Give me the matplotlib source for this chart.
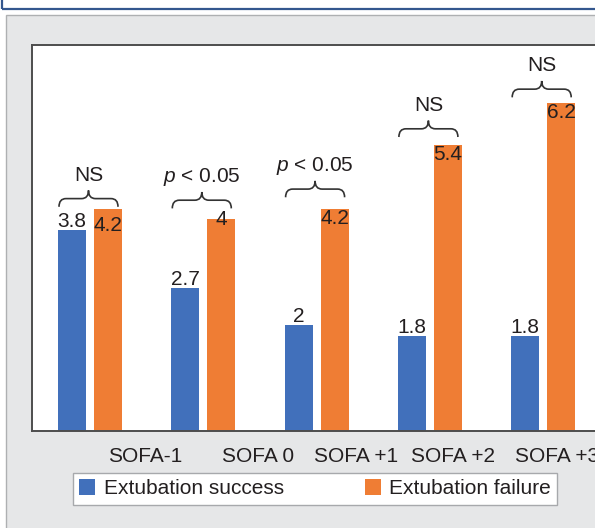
import matplotlib
matplotlib.use('Agg')
import matplotlib.pyplot as plt
from matplotlib.patches import Rectangle, PathPatch
from matplotlib.path import Path
import numpy as np

# ---------------- data ----------------
categories = ['SOFA-1', 'SOFA 0', 'SOFA +1', 'SOFA +2', 'SOFA +3']
success = [3.8, 2.7, 2.0, 1.8, 1.8]
failure = [4.2, 4.0, 4.2, 5.4, 6.2]
success_labels = ['3.8', '2.7', '2', '1.8', '1.8']
failure_labels = ['4.2', '4', '4.2', '5.4', '6.2']
significance = ['NS', r'$\mathit{p}$ < 0.05', r'$\mathit{p}$ < 0.05', 'NS', 'NS']
series_names = ['Extubation success', 'Extubation failure']

# ---------------- style / layout ----------------
plt.rcParams['font.family'] = ['Liberation Sans', 'DejaVu Sans']
plt.rcParams['mathtext.fontset'] = 'custom'
plt.rcParams['mathtext.rm'] = 'Liberation Sans'
plt.rcParams['mathtext.it'] = 'Liberation Sans:italic'

BLUE = '#4170bb'
ORANGE = '#ef7d34'
TXT = '#231f20'
FS = 15

W, H, DPI = 595, 528, 100
fig = plt.figure(figsize=(W / DPI, H / DPI), dpi=DPI)
fig.patch.set_facecolor('white')


def fx(px):
    return px / W


def fy(py):
    return 1 - py / H


# outer blue frame and grey panel
fig.patches.append(Rectangle((fx(2), fy(9)), 2, 1, transform=fig.transFigure,
                             fill=False, edgecolor='#34578e', lw=1.6, zorder=-10))
fig.patches.append(Rectangle((fx(6), -0.1), 2, fy(15) + 0.1, transform=fig.transFigure,
                             facecolor='#e6e7e8', edgecolor='#aeb0b2', lw=1.0, zorder=-9))

px_per_unit = 113.3
x0_px = 90
ax_left, ax_top, ax_bottom, ax_right = 32, 45, 431, 720
ax = fig.add_axes([fx(ax_left), fy(ax_bottom), (ax_right - ax_left) / W, (ax_bottom - ax_top) / H])
ax.set_xlim(-(x0_px - ax_left) / px_per_unit, (ax_right - x0_px) / px_per_unit)
ax.set_ylim(0, 7.3)
ax.set_facecolor('white')
for s in ax.spines.values():
    s.set_color('#4d4d4d')
    s.set_linewidth(1.4)

x = np.arange(len(categories))
bw = 28 / px_per_unit
off = 18 / px_per_unit
b1 = ax.bar(x - off, success, bw, color=BLUE, label=series_names[0])
b2 = ax.bar(x + off, failure, bw, color=ORANGE, label=series_names[1])

# tick labels (shifted as in the original)
tick_offsets = [0.485, 0.483, 0.348, 0.204, 0.12]
ax.set_xticks(x + np.array(tick_offsets), categories)
ax.tick_params(axis='x', length=0, pad=11.5, labelsize=FS, labelcolor=TXT)
ax.set_yticks([])

# value labels
for xi, v, lab in zip(x, success, success_labels):
    ax.annotate(lab, (xi - off, v), xytext=(0, 2.2), textcoords='offset points',
                ha='center', va='baseline', fontsize=FS, color=TXT)
orange_dy = [-5, 6.5, 0, 0, 0]
for xi, v, lab, dy in zip(x, failure, failure_labels, orange_dy):
    ax.annotate(lab, (xi + off, v), xytext=(0, dy), textcoords='offset points',
                ha='center', va='top', fontsize=FS, color=TXT)

# braces with significance text
brace_gap = [0.04, 0.21, 0.22, 0.16, 0.11]
brace_h = 0.31
bl = 31 / px_per_unit
br = 28 / px_per_unit
r = 7 / px_per_unit


def brace(x0, x1, yb, h):
    xm = (x0 + x1) / 2
    ym = yb + h / 2
    yt = yb + h
    verts = [(x0, yb), (x0, ym), (x0 + r, ym), (xm - r, ym), (xm, ym), (xm, yt),
             (xm, ym), (xm + r, ym), (x1 - r, ym), (x1, ym), (x1, yb)]
    codes = [Path.MOVETO, Path.CURVE3, Path.CURVE3, Path.LINETO, Path.CURVE3, Path.CURVE3,
             Path.CURVE3, Path.CURVE3, Path.LINETO, Path.CURVE3, Path.CURVE3]
    ax.add_patch(PathPatch(Path(verts, codes), fill=False, edgecolor='#333333',
                           lw=1.2, clip_on=False))
    return xm, yt


for xi, s_, f_, gap, lab in zip(x, success, failure, brace_gap, significance):
    yb = max(s_, f_) + gap
    xm, yt = brace(xi - bl, xi + br, yb, brace_h)
    ax.annotate(lab, (xm, yt), xytext=(0, 7), textcoords='offset points',
                ha='center', va='baseline', fontsize=FS, color=TXT)

leg = fig.legend(handles=[b1, b2], labels=series_names, loc='upper left',
                 bbox_to_anchor=(fx(73), fy(473)), bbox_transform=fig.transFigure,
                 ncol=2, frameon=True, fancybox=False, edgecolor='#a7a9ac', framealpha=1,
                 borderaxespad=0, borderpad=0.3, handlelength=0.77, handleheight=0.77,
                 handletextpad=0.4, columnspacing=3.9, fontsize=FS, labelcolor=TXT)
leg.get_frame().set_linewidth(1.0)

fig.savefig('out.png', dpi=DPI)
